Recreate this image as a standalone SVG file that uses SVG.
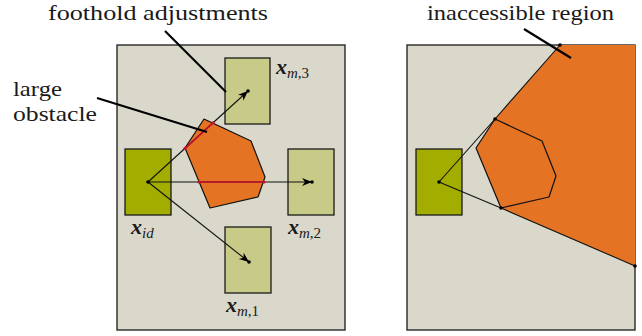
<svg xmlns="http://www.w3.org/2000/svg" width="642" height="336" viewBox="0 0 642 336">
  <style>
    .panel { fill: #d9d8cb; stroke: #1a1a1a; stroke-width: 1.3; }
    .start { fill: #a3ad00; stroke: #1a1a1a; stroke-width: 1.3; }
    .cand { fill: #c8cb88; stroke: #1a1a1a; stroke-width: 1.3; }
    .obst { fill: #e57324; stroke: #111; stroke-width: 1.2; stroke-linejoin: round; }
    .ray { stroke: #111; stroke-width: 1.1; fill: none; }
    .hit { stroke: #c8102e; stroke-width: 1.6; fill: none; }
    .lead { stroke: #000; stroke-width: 2.2; fill: none; }
  </style>
  <defs>
    <marker id="tip" viewBox="-10 -5 12 10" refX="0" refY="0" markerWidth="12" markerHeight="10" markerUnits="userSpaceOnUse" orient="auto">
      <path d="M0,0 L-10,-4 L-7,0 L-10,4 Z" fill="#000"/>
    </marker>
  </defs>

  <rect width="642" height="336" fill="#ffffff"/>

  <!-- left panel: candidate foothold adjustments -->
  <g id="panel-left">
    <rect class="panel" x="117" y="45" width="228" height="285"/>
  </g>
  <g id="obstacle-left">
    <polygon class="obst" points="204,119 251,141 265,177 258,197 210,208 185,148"/>
  </g>

  <g font-family="Liberation Serif, DejaVu Serif, serif" fill="#1a1a1a">
    <g id="x-id">
      <rect class="start" x="125" y="149" width="46" height="66"/>
      <text x="131" y="234" font-size="22" font-weight="bold" font-style="italic">x<tspan font-size="15" font-weight="normal" dy="4">id</tspan></text>
    </g>
    <g id="x-m3">
      <rect class="cand" x="225" y="58" width="45" height="66"/>
      <text x="276" y="74" font-size="22" font-weight="bold" font-style="italic">x<tspan font-size="15" font-weight="normal" dy="4">m<tspan font-style="normal">,3</tspan></tspan></text>
    </g>
    <g id="x-m2">
      <rect class="cand" x="288" y="149" width="46" height="66"/>
      <text x="288" y="234" font-size="22" font-weight="bold" font-style="italic">x<tspan font-size="15" font-weight="normal" dy="4">m<tspan font-style="normal">,2</tspan></tspan></text>
    </g>
    <g id="x-m1">
      <rect class="cand" x="225" y="227" width="46" height="66"/>
      <text x="226" y="312" font-size="22" font-weight="bold" font-style="italic">x<tspan font-size="15" font-weight="normal" dy="4">m<tspan font-style="normal">,1</tspan></tspan></text>
    </g>
  </g>

  <g id="connectors">
    <line class="ray" x1="148" y1="182" x2="248" y2="91" marker-end="url(#tip)"/>
    <line class="ray" x1="148" y1="182" x2="312" y2="182" marker-end="url(#tip)"/>
    <line class="ray" x1="148" y1="182" x2="249" y2="262" marker-end="url(#tip)"/>
    <!-- segments crossing the obstacle -->
    <line class="hit" x1="185" y1="148.3" x2="213" y2="122.8"/>
    <line class="hit" x1="199" y1="182" x2="264" y2="182"/>
    <g fill="#c8102e">
      <circle cx="185" cy="148.3" r="1.6"/>
      <circle cx="213" cy="122.8" r="1.6"/>
      <circle cx="199" cy="182" r="1.6"/>
      <circle cx="264" cy="182" r="1.6"/>
    </g>
    <g fill="#000">
      <circle cx="148" cy="182" r="1.8"/>
      <circle cx="248" cy="91" r="1.8"/>
      <circle cx="312" cy="182" r="1.8"/>
      <circle cx="249" cy="262" r="1.8"/>
    </g>
  </g>

  <!-- right panel: shadow of the obstacle as seen from the start foothold -->
  <g id="panel-right">
    <rect class="panel" x="407" y="45" width="228" height="285"/>
  </g>
  <g id="inaccessible">
    <polygon points="495,119 560,45 635,45 635,266 501,208 476,148" fill="#e57324"/>
    <polygon points="495,119 542,141 556,176 549,197 501,208 476,148" fill="none" stroke="#111" stroke-width="1.2" stroke-linejoin="round"/>
  </g>
  <g id="x-id-right">
    <rect class="start" x="416" y="149" width="46" height="66"/>
  </g>
  <g id="shadow-rays">
    <polyline class="ray" points="439,182 495,119 560,45"/>
    <polyline class="ray" points="439,182 501,208 635,266"/>
    <g fill="#000">
      <circle cx="439" cy="182" r="1.8"/>
      <circle cx="495" cy="119" r="1.8"/>
      <circle cx="501" cy="208" r="1.8"/>
      <circle cx="560" cy="45" r="1.8"/>
      <circle cx="635" cy="266" r="1.8"/>
    </g>
  </g>

  <!-- annotations -->
  <g font-family="Liberation Serif, DejaVu Serif, serif" font-size="22" fill="#1a1a1a">
    <g id="label-foothold">
      <text x="48" y="20" textLength="220" lengthAdjust="spacingAndGlyphs">foothold adjustments</text>
      <line class="lead" x1="165" y1="31" x2="226" y2="92"/>
    </g>
    <g id="label-obstacle">
      <text x="13" y="96" textLength="49" lengthAdjust="spacingAndGlyphs">large</text>
      <text x="13" y="121" textLength="84" lengthAdjust="spacingAndGlyphs">obstacle</text>
      <line class="lead" x1="97" y1="98" x2="207" y2="132"/>
    </g>
    <g id="label-inaccessible">
      <text x="427" y="20" textLength="187" lengthAdjust="spacingAndGlyphs">inaccessible region</text>
      <line class="lead" x1="524" y1="29" x2="571" y2="58"/>
    </g>
  </g>
</svg>
